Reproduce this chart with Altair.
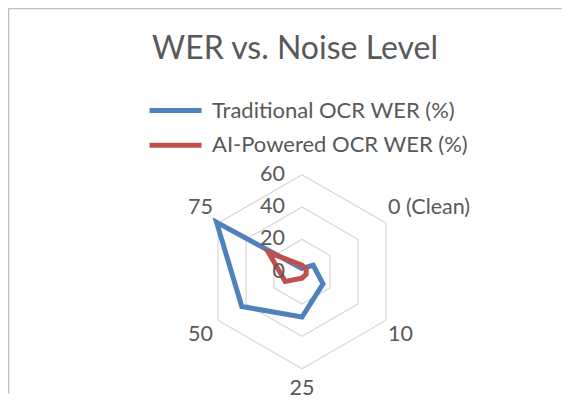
import altair as alt
import pandas as pd

# ---------------- data ----------------
categories = ["", "0 (Clean)", "10", "25", "50", "75"]
traditional_wer = [2, 8, 15, 28, 43, 61]
ai_wer = [4, 3, 3, 4, 12, 24]
series_names = ["Traditional OCR WER (%)", "AI-Powered OCR WER (%)"]
series_colors = ["#4F81BD", "#C0504D"]
ring_values = [20, 40, 60]
tick_values = [0, 20, 40, 60]
title_text = "WER vs. Noise Level"

R_MAX = 60
N = len(categories)

# ---------------- layout ----------------
W, H = 554, 385
CX, CY = 294, 263.7          # radar centre inside the plot area (px)
RADIUS_PX = 97               # pixel radius of the outer ring
k = RADIUS_PX / R_MAX
x_dom = [-CX / k, (W - CX) / k]
y_dom = [(CY - H) / k, CY / k]
FONT = "Lato"
TXT = "#595959"
LABEL_SIZE = 21.5

series_df = pd.DataFrame(
    [{"series": s, "idx": i, "value": v}
     for s, vals in zip(series_names, [traditional_wer, ai_wer])
     for i, v in enumerate(vals)]
)
ring_df = pd.DataFrame(
    [{"ring": r, "idx": i, "value": r} for r in ring_values for i in range(N)]
)
label_df = pd.DataFrame({"idx": list(range(N)), "label": categories})
tick_df = pd.DataFrame({"value": tick_values, "label": [str(t) for t in tick_values]})

border_axis = dict(domain=True, domainColor="#BFBFBF", domainWidth=1.5,
                   ticks=False, labels=False, grid=False, title=None)
X = alt.X("px:Q", scale=alt.Scale(domain=x_dom, nice=False, zero=False),
          axis=alt.Axis(orient="top", **border_axis))
Y = alt.Y("py:Q", scale=alt.Scale(domain=y_dom, nice=False, zero=False),
          axis=alt.Axis(orient="left", **border_axis))


def polar(chart, radius_expr="datum.value"):
    return chart.transform_calculate(
        a=f"datum.idx * 2 * PI / {N}"
    ).transform_calculate(
        px=f"{radius_expr} * sin(datum.a)",
        py=f"{radius_expr} * cos(datum.a)",
    )


rings = polar(alt.Chart(ring_df)).mark_line(
    interpolate="linear-closed", color="#D9D9D9", strokeWidth=1.3
).encode(x=X, y=Y, detail="ring:N", order="idx:Q")

# legend line symbol: a long horizontal stroke drawn from a small nominal symbol
color = alt.Color(
    "series:N",
    scale=alt.Scale(domain=series_names, range=series_colors),
    legend=alt.Legend(
        orient="none", legendX=152, legendY=87, title=None,
        symbolType="M-2,0H2", symbolSize=676, symbolStrokeWidth=5,
        symbolFillColor="transparent",
        labelFont=FONT, labelFontSize=22, labelColor=TXT, labelOffset=21,
        rowPadding=7.7, labelLimit=400,
    ),
)

lines = []
for s in series_names:
    lines.append(
        polar(alt.Chart(series_df)).transform_filter(
            alt.datum.series == s
        ).mark_line(interpolate="linear-closed", strokeWidth=5, strokeJoin="miter").encode(
            x=X, y=Y, color=color, order="idx:Q"
        )
    )

cat_labels = polar(alt.Chart(label_df), str(R_MAX)).transform_calculate(
    sx="sin(datum.a)", cy="cos(datum.a)"
).mark_text(
    font=FONT, fontSize=LABEL_SIZE, color=TXT, baseline="middle",
    align=alt.ExprRef("datum.sx > 0.1 ? 'left' : (datum.sx < -0.1 ? 'right' : 'center')"),
    dx=alt.ExprRef("datum.sx > 0.1 ? 2 : (datum.sx < -0.1 ? -5 : 0)"),
    dy=alt.ExprRef("datum.cy > 0.9 ? -20 : (datum.cy > 0 ? -15 : (datum.cy < -0.9 ? 20 : 15))"),
).encode(x=X, y=Y, text="label:N")

tick_labels = alt.Chart(tick_df).transform_calculate(
    px="0", py="datum.value"
).mark_text(
    font=FONT, fontSize=LABEL_SIZE, color=TXT, align="right", baseline="middle", dx=-17
).encode(x=X, y=Y, text="label:N")

chart = alt.layer(rings, *lines, cat_labels, tick_labels).properties(
    width=W, height=H, padding=0,
    title=alt.Title(title_text, fontSize=32, font=FONT, color=TXT,
                    fontWeight="normal", anchor="middle", offset=-58, dx=10),
).configure_view(stroke=None)

chart.save("out.html", embed_options={"renderer": "svg", "actions": False})
